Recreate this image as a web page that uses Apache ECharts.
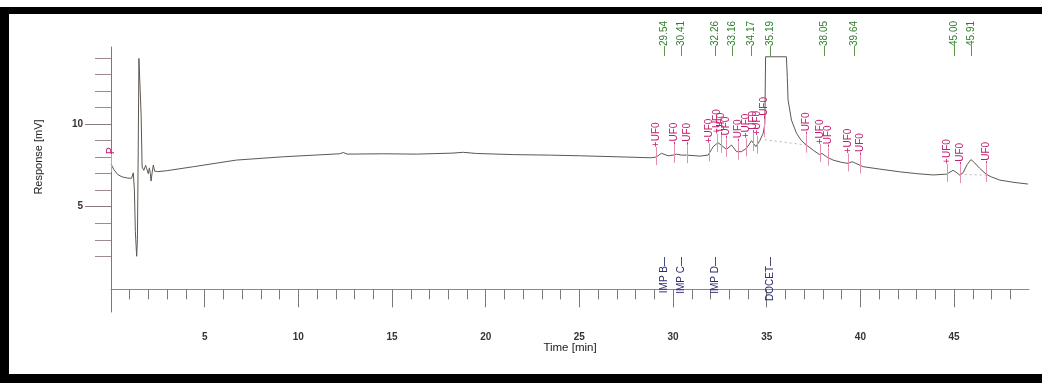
<!DOCTYPE html>
<html>
<head>
<meta charset="utf-8">
<script src="https://cdn.jsdelivr.net/npm/echarts@6/dist/echarts.min.js"></script>
<style>
html, body { margin: 0; padding: 0; background: #fff; }
#main { width: 1042px; height: 383px; }
</style>
</head>
<body>
<div id="main"></div>
<script>
// chromatogram trace: time [min] / response [mV]
var traceTime = [0.00, 0.15, 0.35, 0.60, 0.90, 1.10, 1.19, 1.25, 1.30, 1.37, 1.41, 1.45, 1.49, 1.57, 1.61, 1.66,
    1.75, 1.85, 1.92, 1.99, 2.05, 2.10, 2.14, 2.20, 2.26, 2.33, 2.50, 3.00, 4.40, 6.70, 9.20, 12.2, 12.4, 12.6,
    14.5, 16.3, 18.2, 18.8, 19.5, 21.5, 23.4, 25.0, 27.0, 28.8, 29.1, 29.38, 29.74, 30.0, 30.19, 30.45, 30.72,
    31.43, 31.87, 32.05, 32.14, 32.40, 32.60, 32.85, 33.12, 33.39, 33.65, 33.92, 34.19, 34.42, 34.63, 34.81,
    34.90, 34.94, 36.05, 36.10, 36.14, 36.32, 36.59, 36.85, 37.12, 37.50, 37.83, 37.95, 38.19, 38.54, 39.00,
    39.34, 39.55, 39.70, 40.15, 41.0, 42.1, 43.0, 43.88, 44.60, 44.95, 45.15, 45.30, 45.48, 45.70, 45.90, 46.10,
    46.37, 46.73, 47.00, 47.44, 48.20, 48.95];
var traceResp = [7.58, 7.25, 6.95, 6.80, 6.73, 6.72, 7.05, 6.00, 3.50, 2.00, 3.00, 8.00, 13.97, 13.97, 10.5, 7.40,
    7.20, 7.50, 7.55, 7.00, 7.35, 7.00, 6.55, 7.10, 7.52, 7.15, 7.12, 7.18, 7.42, 7.82, 8.02, 8.20, 8.28, 8.18,
    8.20, 8.18, 8.24, 8.29, 8.22, 8.15, 8.12, 8.08, 8.02, 7.96, 8.00, 8.23, 8.08, 8.12, 8.18, 8.12, 8.12,
    8.06, 8.12, 8.45, 8.63, 8.87, 8.70, 8.47, 8.73, 8.33, 8.33, 8.53, 8.99, 8.63, 8.99, 9.44,
    10.0, 14.07, 14.07, 12.8, 11.45, 10.24, 9.44, 9.00, 8.73, 8.40, 8.15, 8.22, 8.02, 7.82, 7.68,
    7.62, 7.72, 7.65, 7.42, 7.28, 7.11, 7.00, 6.92, 6.97, 7.20, 7.05, 6.91, 7.05, 7.55, 7.85, 7.65,
    7.32, 6.95, 6.80, 6.61, 6.47, 6.37];

// retention times (green, top)
var peakTimes = [29.54, 30.41, 32.26, 33.16, 34.17, 35.19, 38.05, 39.64, 45.00, 45.91];
// identified peaks (blue, bottom)
var namedTimes = [29.54, 30.41, 32.26, 35.19];
var namedLabels = ['IMP B', 'IMP C', 'IMP D', 'DOCET'];
// integration events (magenta)
var eventTimes = [0, 29.08, 30.04, 30.75, 31.93, 32.32, 32.55, 32.82, 33.47, 33.92, 34.28, 34.46, 34.85,
    37.10, 37.87, 38.28, 39.34, 40.00, 44.62, 45.30, 46.71];
var eventLabels = ['P', '+UF0', '-UF0', '-UF0', '+UF0', '+UF0', '-UF0', '-UF0', '-UF0', '+UF0', '-UF0', '+UF0', '-UF0',
    '-UF0', '+UF0', '-UF0', '+UF0', '-UF0', '+UF0', '-UF0', '-UF0'];
// drawn baselines under integrated peaks
var baseA = [[34.90, 9.05], [37.12, 8.73]];
var baseB = [[45.30, 6.95], [46.73, 6.91]];

var xMinorTicks = [], xMajorTicks = [0, 5, 10, 15, 20, 25, 30, 35, 40, 45];
for (var i = 1; i <= 48; i++) xMinorTicks.push(i);
var xTickLabels = [5, 10, 15, 20, 25, 30, 35, 40, 45];
var yMinorTicks = [2, 3, 4, 5, 6, 7, 8, 9, 10, 11, 12, 13, 14];
var yTickLabels = [5, 10];

var FONT = '"Liberation Sans", Arial, sans-serif';

function respAt(t) {
    for (var i = 1; i < traceTime.length; i++) {
        if (t <= traceTime[i]) {
            var a = traceTime[i - 1], b = traceTime[i];
            var f = b === a ? 0 : (t - a) / (b - a);
            return traceResp[i - 1] + f * (traceResp[i] - traceResp[i - 1]);
        }
    }
    return traceResp[traceResp.length - 1];
}

var traceData = traceTime.map(function (t, i) { return [t, traceResp[i]]; });
var eventData = eventTimes.map(function (t) { return [t, respAt(t)]; });

var chart = echarts.init(document.getElementById('main'), null, { renderer: 'canvas' });

var yBase = { type: 'value', min: -1.37, max: 14.66, splitLine: { show: false } };
var xBase = { type: 'value', min: 0, max: 49, splitLine: { show: false } };

chart.setOption({
    animation: false,
    backgroundColor: '#fff',
    grid: { left: 111, top: 47, width: 918, height: 265, containLabel: false, outerBoundsMode: 'none' },
    xAxis: [
        Object.assign({}, xBase, {
            axisLine: { show: true, lineStyle: { color: '#8a8a8a', width: 1 } },
            axisTick: { show: true, length: 10, customValues: xMinorTicks, lineStyle: { color: '#7a7a7a' } },
            axisLabel: { show: false }
        }),
        Object.assign({}, xBase, {
            position: 'bottom',
            axisLine: { show: false },
            axisTick: { show: true, length: 18, customValues: xMajorTicks, lineStyle: { color: '#7a7a7a' } },
            axisLabel: { show: true, customValues: xTickLabels, margin: 20, color: '#333', fontSize: 10, fontWeight: 'bold', fontFamily: FONT }
        })
    ],
    yAxis: [
        Object.assign({}, yBase, {
            axisLine: { show: true, lineStyle: { color: '#7a7a7a', width: 1 } },
            axisTick: { show: true, length: 16, customValues: yMinorTicks, lineStyle: { color: '#a08a92' } },
            axisLabel: { show: false }
        }),
        Object.assign({}, yBase, {
            position: 'left',
            axisLine: { show: false },
            axisTick: { show: true, length: 26, customValues: yTickLabels, lineStyle: { color: '#8a7a80' } },
            axisLabel: { show: true, customValues: yTickLabels, margin: 28, color: '#333', fontSize: 10, fontWeight: 'bold', fontFamily: FONT }
        })
    ],
    graphic: [
        { type: 'rect', shape: { x: 0, y: 7, width: 1042, height: 7 }, style: { fill: '#000' } },
        { type: 'rect', shape: { x: 0, y: 7, width: 9, height: 376 }, style: { fill: '#000' } },
        { type: 'rect', shape: { x: 0, y: 374, width: 1042, height: 9 }, style: { fill: '#000' } },
        { type: 'text', x: 39, y: 157, rotation: Math.PI / 2,
          style: { text: 'Response [mV]', fill: '#222', font: '11px ' + FONT, align: 'center', verticalAlign: 'middle' } },
        { type: 'text', x: 570, y: 348,
          style: { text: 'Time [min]', fill: '#222', font: '11.5px ' + FONT, align: 'center', verticalAlign: 'middle' } }
    ],
    series: [
        {
            type: 'line', data: traceData, showSymbol: false, symbol: 'none',
            lineStyle: { color: '#5e5852', width: 1 }, z: 3
        },
        {
            type: 'line', data: baseA, showSymbol: false, symbol: 'none',
            lineStyle: { color: '#b8b8b8', width: 1, type: [2, 3] }, z: 2
        },
        {
            type: 'line', data: baseB, showSymbol: false, symbol: 'none',
            lineStyle: { color: '#b8b8b8', width: 1, type: [2, 3] }, z: 2
        },
        {
            // integration event marks
            type: 'custom', data: eventData, z: 4,
            renderItem: function (params, api) {
                var p = api.coord([api.value(0), api.value(1)]);
                var x = Math.round(p[0]) + 0.5;
                return {
                    type: 'group', children: [
                        { type: 'line', shape: { x1: x, y1: p[1] - 10, x2: x, y2: p[1] + 8 },
                          style: { stroke: '#e48fb0', lineWidth: 1 } },
                        { type: 'text', x: x, y: p[1] - 10, rotation: Math.PI / 2,
                          style: { text: eventLabels[params.dataIndex], fill: '#c21d6d', font: '10px ' + FONT,
                                   align: 'left', verticalAlign: 'middle' } }
                    ]
                };
            }
        },
        {
            // retention time labels
            type: 'custom', data: peakTimes.map(function (t) { return [t, 0]; }), z: 4,
            renderItem: function (params, api) {
                var x = Math.round(api.coord([api.value(0), 0])[0]) + 0.5;
                var top = params.coordSys.y;
                return {
                    type: 'group', children: [
                        { type: 'line', shape: { x1: x, y1: top - 1, x2: x, y2: top + 9 },
                          style: { stroke: '#5a9a4a', lineWidth: 1 } },
                        { type: 'text', x: x, y: top - 1, rotation: Math.PI / 2,
                          style: { text: peakTimes[params.dataIndex].toFixed(2), fill: '#2f7f2a', font: '10px ' + FONT,
                                   align: 'left', verticalAlign: 'middle' } }
                    ]
                };
            }
        },
        {
            // identified peak names
            type: 'custom', data: namedTimes.map(function (t) { return [t, 0]; }), z: 4,
            renderItem: function (params, api) {
                var x = Math.round(api.coord([api.value(0), 0])[0]) + 0.5;
                var bottom = params.coordSys.y + params.coordSys.height;
                return {
                    type: 'group', children: [
                        { type: 'line', shape: { x1: x, y1: bottom - 55, x2: x, y2: bottom - 46 },
                          style: { stroke: '#4a4c80', lineWidth: 1 } },
                        { type: 'text', x: x, y: bottom - 46, rotation: Math.PI / 2,
                          style: { text: namedLabels[params.dataIndex], fill: '#2b2d6e', font: '10px ' + FONT,
                                   align: 'right', verticalAlign: 'middle' } }
                    ]
                };
            }
        }
    ]
});
</script>
</body>
</html>
